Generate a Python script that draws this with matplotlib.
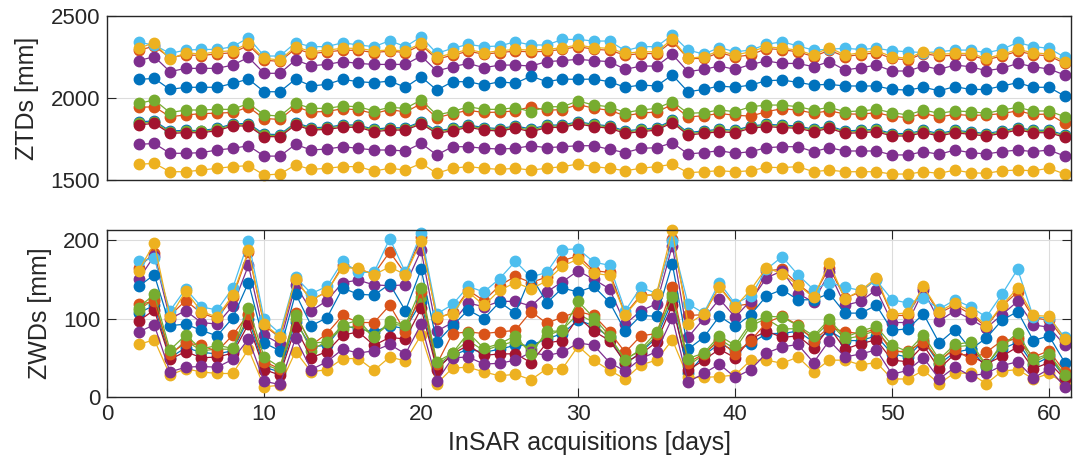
import numpy as np
import matplotlib
matplotlib.use("Agg")
import matplotlib.pyplot as plt

plt.rcParams['font.family'] = ['Liberation Sans', 'DejaVu Sans']

# acquisition days
days = np.arange(2, 62)

# MATLAB default line colours
c_blue = '#0072BD'
c_orange = '#D95319'
c_yellow = '#EDB120'
c_purple = '#7E2F8E'
c_green = '#77AC30'
c_lblue = '#4DBEEE'
c_dred = '#A2142F'

# zenith total delays per station [mm]
ztd_b1 = [1856, 1860, 1800, 1803, 1802, 1815, 1843, 1845, 1780, 1778,
          1850, 1820, 1822, 1837, 1835, 1810, 1820, 1818, 1857, 1800,
          1815, 1836, 1820, 1814, 1830, 1812, 1835, 1836, 1856, 1840,
          1830, 1800, 1810, 1819, 1865, 1790, 1800, 1810, 1804, 1830,
          1840, 1835, 1830, 1810, 1830, 1800, 1804, 1810, 1784, 1784,
          1804, 1784, 1804, 1794, 1784, 1800, 1820, 1804, 1804, 1776]
ztd_o1 = [2290, 2315, 2245, 2262, 2258, 2268, 2275, 2320, 2230, 2222,
          2300, 2270, 2280, 2290, 2290, 2276, 2285, 2276, 2322, 2236,
          2260, 2284, 2266, 2276, 2285, 2280, 2284, 2296, 2312, 2296,
          2290, 2260, 2270, 2270, 2345, 2240, 2240, 2276, 2250, 2262,
          2300, 2294, 2280, 2252, 2290, 2252, 2264, 2275, 2240, 2232,
          2270, 2255, 2260, 2260, 2232, 2255, 2284, 2264, 2256, 2210]
ztd_y1 = [1597, 1603, 1552, 1552, 1562, 1573, 1583, 1589, 1532, 1538,
          1593, 1566, 1573, 1583, 1583, 1556, 1573, 1562, 1603, 1542,
          1573, 1583, 1573, 1566, 1573, 1562, 1573, 1583, 1599, 1583,
          1573, 1558, 1573, 1583, 1597, 1546, 1552, 1558, 1552, 1558,
          1579, 1577, 1583, 1552, 1562, 1552, 1552, 1552, 1538, 1538,
          1552, 1542, 1562, 1546, 1542, 1558, 1562, 1558, 1573, 1538]
ztd_p1 = [2227, 2251, 2160, 2180, 2180, 2180, 2200, 2247, 2150, 2150,
          2231, 2196, 2204, 2221, 2210, 2204, 2204, 2204, 2255, 2164,
          2190, 2210, 2184, 2200, 2200, 2194, 2221, 2227, 2235, 2227,
          2221, 2174, 2194, 2194, 2265, 2160, 2174, 2194, 2174, 2204,
          2225, 2210, 2210, 2190, 2221, 2170, 2184, 2200, 2164, 2164,
          2194, 2174, 2200, 2190, 2166, 2180, 2210, 2190, 2176, 2140]
ztd_g1 = [1846, 1853, 1793, 1797, 1797, 1809, 1837, 1838, 1773, 1772,
          1844, 1813, 1816, 1830, 1830, 1803, 1813, 1812, 1850, 1793,
          1809, 1830, 1813, 1807, 1824, 1803, 1828, 1830, 1850, 1834,
          1824, 1793, 1803, 1813, 1858, 1783, 1793, 1803, 1797, 1824,
          1834, 1828, 1824, 1803, 1824, 1793, 1797, 1803, 1777, 1777,
          1797, 1777, 1797, 1787, 1777, 1793, 1813, 1797, 1797, 1769]
ztd_lb = [2338, 2322, 2271, 2291, 2295, 2295, 2312, 2366, 2255, 2255,
          2336, 2312, 2312, 2336, 2322, 2312, 2348, 2312, 2372, 2271,
          2302, 2326, 2312, 2316, 2342, 2322, 2322, 2356, 2356, 2346,
          2346, 2287, 2312, 2312, 2383, 2291, 2267, 2306, 2281, 2291,
          2326, 2342, 2316, 2291, 2296, 2302, 2295, 2302, 2287, 2281,
          2276, 2281, 2291, 2291, 2275, 2295, 2338, 2312, 2302, 2247]
ztd_dr = [1836, 1846, 1785, 1789, 1789, 1801, 1830, 1830, 1765, 1765,
          1836, 1805, 1809, 1822, 1822, 1795, 1805, 1805, 1842, 1785,
          1801, 1822, 1805, 1799, 1816, 1795, 1820, 1822, 1842, 1826,
          1816, 1785, 1795, 1805, 1850, 1775, 1785, 1795, 1789, 1816,
          1826, 1820, 1816, 1795, 1816, 1785, 1789, 1795, 1769, 1769,
          1789, 1769, 1789, 1779, 1769, 1785, 1805, 1789, 1789, 1761]
ztd_b2 = [2113, 2119, 2052, 2065, 2065, 2065, 2089, 2115, 2038, 2038,
          2115, 2073, 2083, 2113, 2099, 2093, 2103, 2065, 2129, 2048,
          2099, 2099, 2079, 2099, 2089, 2133, 2099, 2115, 2113, 2115,
          2099, 2065, 2079, 2073, 2140, 2038, 2052, 2073, 2065, 2079,
          2105, 2109, 2095, 2079, 2083, 2073, 2073, 2073, 2052, 2048,
          2065, 2044, 2069, 2052, 2052, 2073, 2093, 2065, 2065, 2012]
ztd_o2 = [1943, 1947, 1886, 1897, 1905, 1908, 1912, 1945, 1875, 1870,
          1948, 1915, 1918, 1935, 1928, 1905, 1930, 1915, 1965, 1880,
          1905, 1925, 1912, 1914, 1922, 1947, 1925, 1930, 1960, 1938,
          1925, 1892, 1908, 1915, 1960, 1885, 1892, 1906, 1895, 1890,
          1917, 1935, 1926, 1908, 1922, 1903, 1902, 1910, 1890, 1880,
          1906, 1885, 1900, 1894, 1897, 1905, 1922, 1900, 1902, 1846]
ztd_y2 = [2302, 2336, 2235, 2275, 2267, 2281, 2287, 2332, 2241, 2231,
          2312, 2281, 2291, 2302, 2302, 2287, 2291, 2287, 2332, 2247,
          2271, 2295, 2275, 2287, 2295, 2291, 2295, 2306, 2322, 2306,
          2302, 2271, 2281, 2281, 2358, 2241, 2251, 2287, 2261, 2281,
          2312, 2302, 2291, 2261, 2306, 2261, 2275, 2287, 2251, 2241,
          2281, 2265, 2271, 2271, 2241, 2265, 2295, 2275, 2267, 2221]
ztd_p2 = [1718, 1724, 1664, 1664, 1668, 1684, 1694, 1710, 1647, 1647,
          1718, 1684, 1690, 1704, 1694, 1684, 1684, 1678, 1724, 1654,
          1704, 1704, 1694, 1690, 1694, 1710, 1698, 1704, 1710, 1710,
          1688, 1668, 1694, 1698, 1728, 1660, 1668, 1680, 1664, 1674,
          1698, 1704, 1704, 1674, 1698, 1678, 1678, 1678, 1654, 1654,
          1674, 1658, 1684, 1668, 1660, 1674, 1684, 1674, 1684, 1647]
ztd_g2 = [1967, 1988, 1911, 1927, 1927, 1931, 1931, 1967, 1897, 1890,
          1967, 1937, 1937, 1951, 1947, 1921, 1943, 1937, 1988, 1897,
          1917, 1947, 1931, 1931, 1941, 1917, 1947, 1947, 1982, 1957,
          1947, 1911, 1927, 1937, 1978, 1907, 1911, 1927, 1917, 1947,
          1957, 1957, 1947, 1927, 1943, 1917, 1921, 1931, 1911, 1897,
          1927, 1907, 1921, 1917, 1907, 1927, 1943, 1921, 1921, 1886]

# zenith wet delays per station [mm]
zwd_b1 = [107, 117, 50, 63, 57, 55, 59, 100, 38, 32,
          96, 64, 66, 91, 87, 83, 91, 87, 121, 38,
          53, 61, 57, 61, 66, 66, 74, 81, 98, 91,
          76, 42, 57, 76, 123, 30, 53, 68, 59, 68,
          81, 81, 84, 70, 85, 72, 72, 78, 55, 51,
          72, 42, 57, 61, 38, 61, 70, 41, 51, 25]
zwd_o1 = [165, 184, 104, 123, 107, 100, 127, 185, 91, 76,
          149, 124, 134, 168, 163, 157, 185, 157, 204, 100,
          108, 136, 123, 142, 154, 146, 153, 174, 180, 161,
          159, 106, 130, 130, 202, 104, 105, 141, 116, 119,
          161, 163, 144, 129, 165, 126, 134, 150, 104, 104,
          139, 107, 117, 106, 89, 116, 134, 101, 98, 72]
zwd_y1 = [67, 73, 28, 36, 32, 30, 30, 61, 13, 15,
          58, 32, 35, 49, 49, 34, 51, 46, 79, 17,
          37, 38, 32, 27, 29, 22, 36, 36, 65, 47,
          34, 23, 41, 47, 73, 25, 25, 26, 28, 47,
          47, 43, 51, 32, 47, 47, 41, 44, 23, 23,
          34, 17, 31, 30, 17, 33, 35, 23, 30, 17]
zwd_p1 = [150, 180, 100, 110, 95, 93, 116, 168, 79, 68,
          143, 110, 123, 146, 149, 143, 142, 143, 187, 84,
          95, 120, 115, 122, 122, 116, 134, 147, 161, 150,
          138, 93, 110, 119, 193, 76, 100, 125, 102, 123,
          152, 161, 132, 121, 159, 117, 122, 137, 95, 95,
          136, 97, 110, 99, 88, 105, 122, 92, 89, 66]
zwd_g1 = [111, 125, 53, 72, 59, 61, 61, 104, 42, 34,
          100, 59, 72, 87, 91, 78, 93, 91, 127, 40,
          56, 72, 59, 66, 71, 61, 78, 86, 106, 95,
          74, 49, 59, 78, 132, 40, 54, 74, 61, 91,
          100, 87, 87, 76, 95, 74, 78, 85, 61, 55,
          74, 44, 64, 66, 40, 68, 76, 44, 54, 25]
zwd_lb = [173, 177, 110, 138, 115, 111, 139, 199, 99, 81,
          153, 132, 141, 173, 159, 159, 202, 159, 209, 106,
          118, 141, 134, 151, 173, 153, 159, 188, 189, 172,
          168, 110, 140, 132, 199, 119, 107, 146, 119, 129,
          163, 179, 156, 137, 146, 140, 136, 149, 124, 120,
          126, 112, 124, 115, 102, 131, 163, 102, 101, 76]
zwd_dr = [97, 111, 48, 58, 50, 51, 56, 93, 35, 28,
          89, 50, 58, 79, 83, 66, 76, 74, 113, 35,
          55, 66, 53, 55, 55, 44, 69, 72, 102, 84,
          72, 44, 55, 70, 117, 34, 47, 61, 50, 74,
          84, 76, 78, 62, 89, 61, 68, 73, 47, 45,
          66, 36, 55, 53, 42, 52, 64, 36, 44, 23]
zwd_b2 = [141, 156, 91, 93, 85, 78, 101, 146, 69, 59,
          132, 91, 101, 139, 131, 130, 144, 110, 163, 70,
          91, 111, 100, 121, 107, 155, 120, 139, 134, 141,
          121, 84, 104, 103, 170, 61, 76, 103, 90, 105,
          129, 137, 124, 124, 132, 107, 107, 117, 85, 87,
          106, 69, 86, 61, 75, 98, 109, 72, 78, 44]
zwd_o2 = [118, 122, 55, 69, 66, 58, 79, 106, 45, 36,
          107, 66, 81, 104, 95, 95, 117, 83, 134, 42,
          81, 83, 81, 83, 85, 109, 94, 102, 109, 104,
          83, 57, 78, 81, 140, 44, 55, 72, 55, 72,
          95, 103, 92, 72, 89, 83, 81, 87, 57, 59,
          70, 47, 61, 48, 57, 72, 74, 51, 59, 32]
zwd_y2 = [161, 196, 102, 135, 109, 102, 130, 187, 93, 77,
          151, 123, 135, 165, 164, 156, 166, 156, 199, 102,
          106, 134, 117, 136, 146, 138, 148, 167, 176, 158,
          155, 105, 128, 132, 213, 93, 106, 140, 115, 137,
          165, 157, 143, 127, 171, 125, 136, 152, 106, 107,
          141, 109, 120, 109, 91, 117, 139, 104, 103, 74]
zwd_p2 = [83, 92, 32, 38, 39, 38, 48, 74, 20, 16,
          75, 35, 45, 61, 56, 59, 67, 55, 93, 20,
          50, 51, 42, 43, 47, 57, 53, 57, 69, 66,
          44, 33, 49, 58, 101, 19, 30, 42, 25, 35,
          56, 64, 67, 44, 72, 51, 55, 60, 29, 34,
          50, 23, 38, 27, 30, 40, 45, 24, 36, 13]
zwd_g2 = [114, 131, 60, 79, 61, 66, 62, 114, 51, 38,
          104, 69, 70, 92, 98, 76, 97, 92, 139, 45,
          56, 82, 62, 68, 78, 55, 84, 84, 122, 101,
          78, 47, 61, 83, 127, 49, 56, 78, 66, 95,
          103, 102, 91, 78, 99, 76, 84, 90, 66, 58,
          79, 48, 67, 70, 41, 65, 82, 48, 55, 28]

colors = [c_blue, c_orange, c_yellow, c_purple, c_green, c_lblue,
          c_dred, c_blue, c_orange, c_yellow, c_purple, c_green]
ztds = [ztd_b1, ztd_o1, ztd_y1, ztd_p1, ztd_g1, ztd_lb,
        ztd_dr, ztd_b2, ztd_o2, ztd_y2, ztd_p2, ztd_g2]
zwds = [zwd_b1, zwd_o1, zwd_y1, zwd_p1, zwd_g1, zwd_lb,
        zwd_dr, zwd_b2, zwd_o2, zwd_y2, zwd_p2, zwd_g2]

axcol = '#262626'
fig = plt.figure(figsize=(10.75, 4.7), dpi=100)
ax1 = fig.add_axes([0.0997, 0.6164, 0.8966, 0.3502])
ax2 = fig.add_axes([0.0997, 0.1553, 0.8966, 0.3553])


def style_axes(ax):
    for s in ax.spines.values():
        s.set_color(axcol)
        s.set_linewidth(1.0)
    ax.tick_params(direction='in', length=6.5, width=0.8, colors=axcol,
                   labelsize=16, top=True, right=True, pad=5)
    ax.grid(True, color='#dcdcdc', linewidth=0.8)
    ax.set_axisbelow(True)


for ax, series in ((ax1, ztds), (ax2, zwds)):
    for vals, col in zip(series, colors):
        ax.plot(days, vals, '-o', color=col, lw=0.9, ms=7.5, mec=col,
                mfc=col, clip_on=False)
    style_axes(ax)
    ax.set_xlim(0, 61.4)

ax1.set_ylim(1500, 2500)
ax1.set_yticks([1500, 2000, 2500])
ax1.set_xticks([])
ax1.set_ylabel('ZTDs [mm]', fontsize=18, color=axcol, labelpad=8)

ax2.set_ylim(0, 213)
ax2.set_yticks([0, 100, 200])
ax2.set_xticks(np.arange(0, 61, 10))
ax2.set_ylabel('ZWDs [mm]', fontsize=18, color=axcol, labelpad=8)
ax2.set_xlabel('InSAR acquisitions [days]', fontsize=18, color=axcol)

fig.savefig('out.png', dpi=100)
